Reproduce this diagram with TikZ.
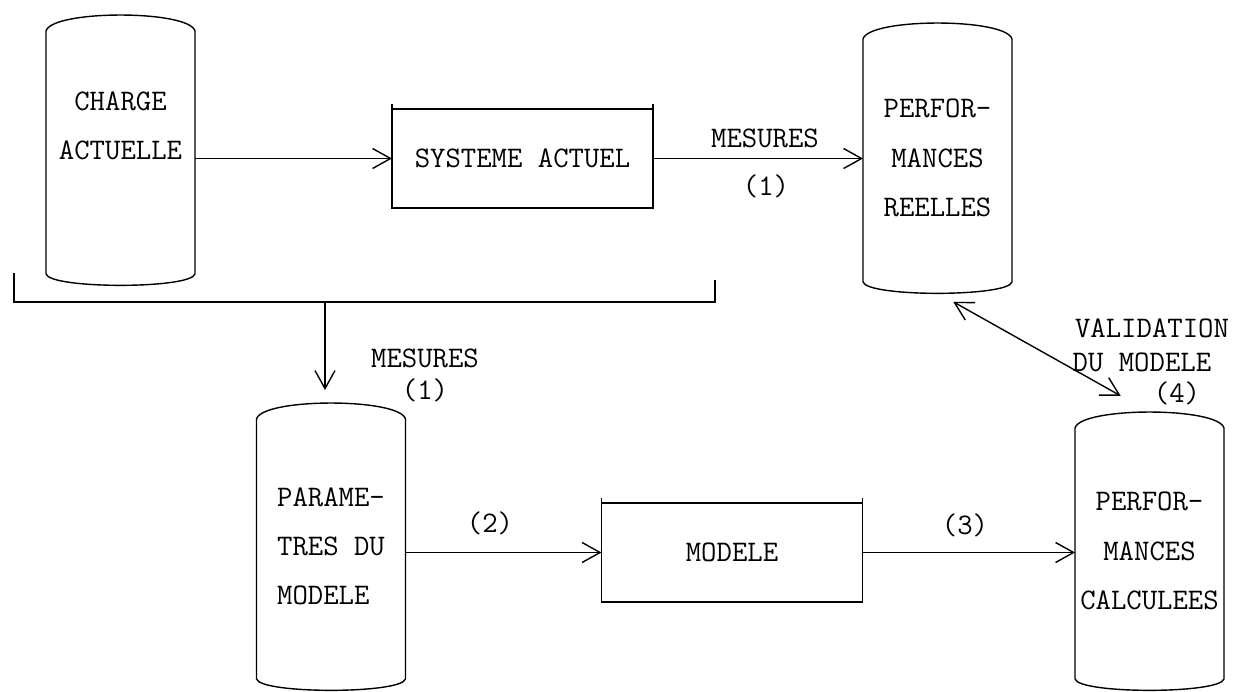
\documentclass[tikz,border=0pt]{standalone}
\usepackage{fontspec}
\usetikzlibrary{arrows.meta}

\begin{document}
\begin{tikzpicture}[x=0.02cm, y=-0.02cm, >={Straight Barb[length=0.36cm,width=0.4cm]},
    line width=0.8pt, font=\fontsize{17}{28}\selectfont\ttfamily]
\useasboundingbox (0,0) rectangle (1238,692);

\begin{scope}[every node/.style={inner sep=0pt, outer sep=0pt, minimum width=2.98cm, align=center}]
    \node[minimum height=5.4cm]  (charge)  at (120.5,150) {CHARGE\\ACTUELLE\\\mbox{}};
    \node[minimum height=5.4cm]  (reelles) at (937.5,158) {PERFOR-\\MANCES\\REELLES};
    \node[minimum height=5.74cm, align=left] (param) at (331,546.5) {PARAME-\\TRES DU\\MODELE};
    \node[minimum height=5.56cm] (calc)    at (1149.5,551) {PERFOR-\\MANCES\\CALCULEES};
\end{scope}

\foreach \n in {charge, reelles, param, calc}
    \draw ([yshift=-0.32cm]\n.north west) -- ([yshift=0.22cm]\n.south west)
        to[out=-75, in=-105, looseness=0.27] ([yshift=0.22cm]\n.south east)
        -- ([yshift=-0.32cm]\n.north east)
        to[out=105, in=75, looseness=0.38] ([yshift=-0.32cm]\n.north west);

\begin{scope}[every node/.style={draw, inner sep=0pt, outer sep=0pt, minimum width=5.22cm, minimum height=1.98cm}]
    \node (sys)    at (522.5,158.5) {SYSTEME ACTUEL};
    \node (modele) at (732,552.5)   {MODELE};
\end{scope}

\foreach \n in {sys, modele} {
    \draw (\n.north west) -- ++(0,-5);
    \draw (\n.north east) -- ++(0,-5);
}

\begin{scope}[every node/.style={inner sep=0pt}]
    \node (mes1)  at (765,138)  {MESURES};
    \node (num1)  at (766,186)  {(1)};
    \node (mes2)  at (425,358)  {MESURES};
    \node (num1b) at (425,390)  {(1)};
    \node (num2)  at (490,523)  {(2)};
    \node (num3)  at (965,525)  {(3)};
    \node (valid) at (1152,328) {VALIDATION};
    \node[anchor=west] (dumod) at (1072,362) {DU MODELE};
    \node (num4)  at (1177,393) {(4)};
\end{scope}

% mesures sur le systeme actuel
\coordinate (bl)    at (14,273);
\coordinate (bkl)   at (14,302);
\coordinate (split) at (325,302);
\coordinate (bkr)   at (715,302);
\coordinate (br)    at (715,280);
\draw (bl) -- (bkl) -- (bkr) -- (br);

\begin{scope}[ ]
    \path [->] (charge.east |- sys.west) edge (sys.west);
    \path [->] (sys.east) edge (sys.east -| reelles.west);
    \path [->, shorten >=0.26cm] (split) edge (split |- param.north);
    \path [->] (param.east |- modele.west) edge (modele.west);
    \path [->] (modele.east) edge (modele.east -| calc.west);
    \path [<->, shorten <=0.36cm, shorten >=0.66cm] (reelles.south) edge (calc.north);
\end{scope}
\end{tikzpicture}
\end{document}
